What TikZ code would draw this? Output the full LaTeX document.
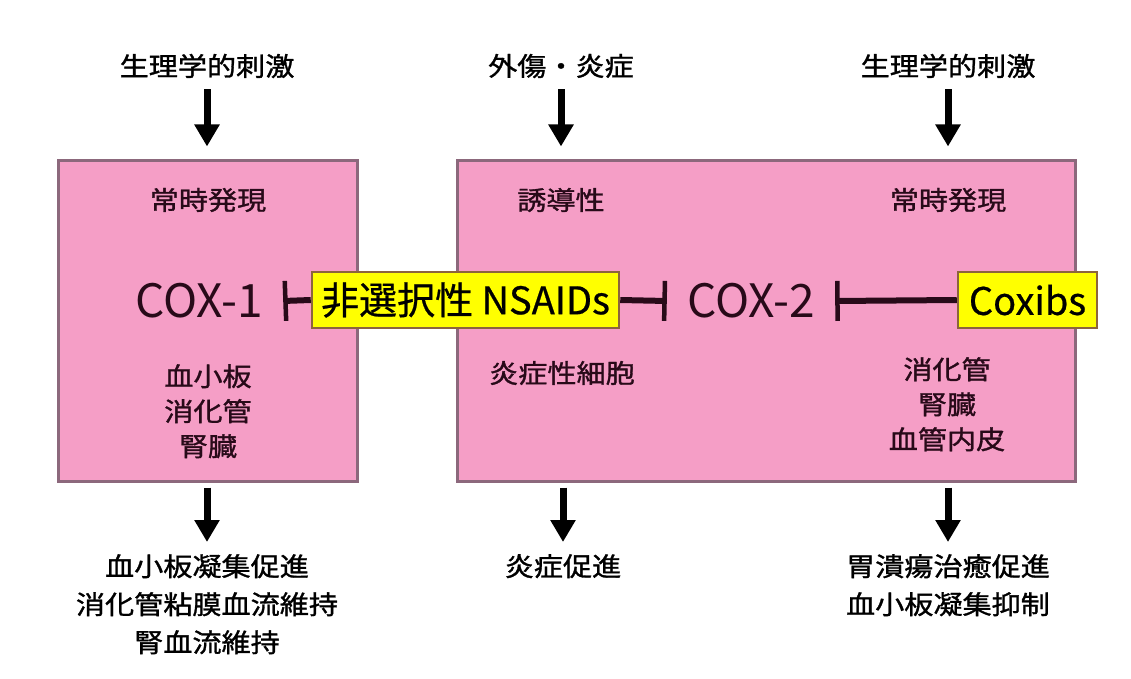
\documentclass[tikz,border=0pt]{standalone}
\usepackage{fontspec}
\setmainfont{Noto Sans CJK JP}
\newfontfamily\jpw[FakeStretch=1.12,FakeBold=1.2]{Noto Sans CJK JP}
\newfontfamily\drugfont[FakeBold=0.6]{Noto Sans CJK JP}
\usetikzlibrary{arrows.meta}
\definecolor{boxpink}{RGB}{245,158,198}
\definecolor{boxedge}{RGB}{140,104,124}
\definecolor{ylw}{RGB}{255,255,0}
\definecolor{ylwedge}{RGB}{140,100,60}
\definecolor{ink}{RGB}{40,10,25}
\begin{document}
\begin{tikzpicture}[x=1pt,y=-1pt,
  lbl/.style={font=\jpw\fontsize{26}{38}\selectfont, align=center, inner sep=0pt},
  inlbl/.style={font=\jpw\fontsize{26}{35}\selectfont, align=center, inner sep=0pt, text=ink},
  zone/.style={draw=boxedge, line width=3pt, fill=boxpink, inner sep=0pt, minimum height=320pt},
  drug/.style={draw=ylwedge, line width=2.5pt, fill=ylw, inner sep=0pt, minimum height=56pt, font=\drugfont\fontsize{38}{40}\selectfont},
  cox/.style={font=\fontsize{46}{48}\selectfont, inner sep=0pt, minimum width=168pt, text=ink},
  arr/.style={line width=7pt, -{Triangle[width=24pt,length=22pt]}},
  inh/.style={line width=6pt, draw=ink, -{Bar[width=40pt,line width=4.5pt]}}
]
\path[use as bounding box, fill=white] (0,0) rectangle (1131,679);

% zones
\node[zone, minimum width=299pt] (box1) at (207.5,321) {};
\node[zone, minimum width=618pt] (box2) at (766,321) {};

% top labels
\node[lbl] (t1) at (207,66) {生理学的刺激};
\node[lbl] (t2) at (561,66) {外傷・炎症};
\node[lbl] (t3) at (948,66) {生理学的刺激};

\draw[arr, shorten <=11pt, shorten >=13pt] (t1.south) -- (t1.south |- box1.north);
\draw[arr, shorten <=11pt, shorten >=13pt] (t2.south) -- (t2.south |- box2.north);
\draw[arr, shorten <=11pt, shorten >=13pt] (t3.south) -- (t3.south |- box2.north);

% inside labels
\node[inlbl] (e1) at (208,200) {常時発現};
\node[inlbl] (e2) at (561,200) {誘導性};
\node[inlbl] (e3) at (948,200) {常時発現};
\node[inlbl, anchor=north] (o1) at (208,364) {血小板\\消化管\\腎臓};
\node[inlbl] (o2) at (562,373) {炎症性細胞};
\node[inlbl, anchor=north] (o3) at (947,357) {消化管\\腎臓\\血管内皮};

% COX
\node[cox] (cox1) at (199,301) {COX-1};
\node[cox] (cox2) at (751,301) {COX-2};

% drugs
\node[drug, minimum width=307pt] (nsaids) at (465.5,300) {非選択性 NSAIDs};
\node[drug, minimum width=139pt] (coxibs) at (1027.5,300) {Coxibs};

\draw[inh] (nsaids.west) -- (cox1.east);
\draw[inh] (nsaids.east) -- (cox2.west);
\draw[inh] (coxibs.west) -- (cox2.east);

% bottom labels
\node[lbl, anchor=north] (r1) at (207,554) {血小板凝集促進\\消化管粘膜血流維持\\腎血流維持};
\node[lbl, anchor=north] (r2) at (563,554) {炎症促進};
\node[lbl, anchor=north] (r3) at (948,554) {胃潰瘍治癒促進\\血小板凝集抑制};

\draw[arr, shorten <=5pt, shorten >=12pt] (box1.south -| r1.north) -- (r1.north);
\draw[arr, shorten <=5pt, shorten >=12pt] (box2.south -| r2.north) -- (r2.north);
\draw[arr, shorten <=5pt, shorten >=12pt] (box2.south -| r3.north) -- (r3.north);
\end{tikzpicture}
\end{document}
